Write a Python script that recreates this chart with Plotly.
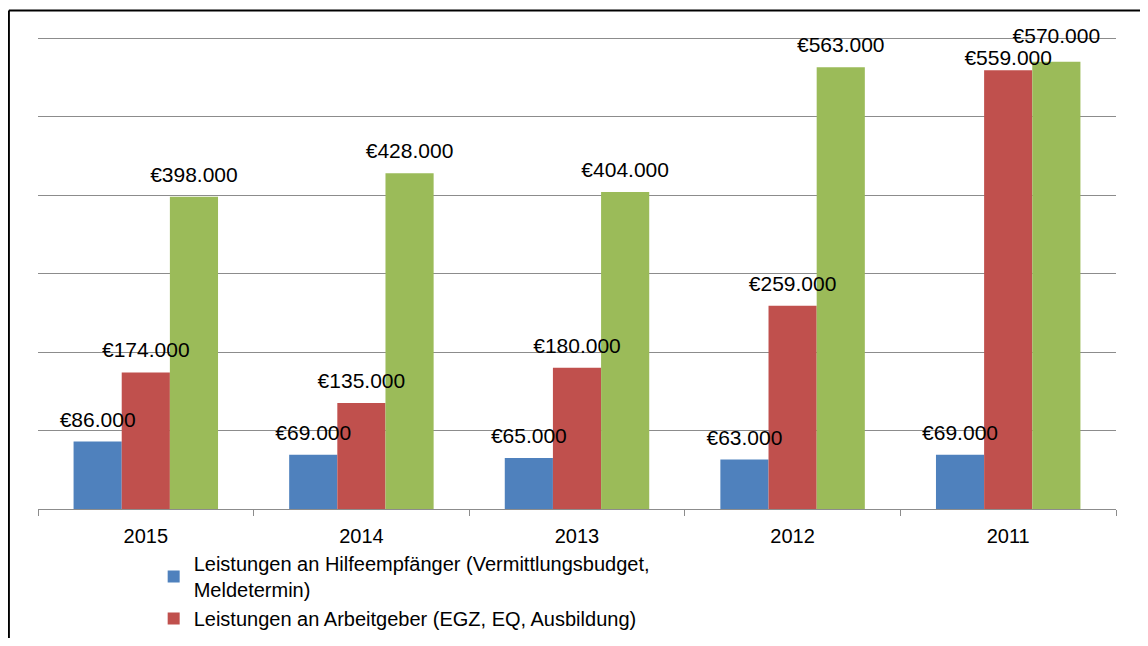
import plotly.graph_objects as go

years = ["2015", "2014", "2013", "2012", "2011"]
hilfe = [86000, 69000, 65000, 63000, 69000]
arbeitgeber = [174000, 135000, 180000, 259000, 559000]
weitere = [398000, 428000, 404000, 563000, 570000]

names = [
    "Leistungen an Hilfeempfänger (Vermittlungsbudget,<br>Meldetermin)",
    "Leistungen an Arbeitgeber (EGZ, EQ, Ausbildung)",
    "Leistungen an Träger (Maßnahmen)",
]
colors = ["#4F81BD", "#C0504D", "#9BBB59"]
series = [hilfe, arbeitgeber, weitere]

# label offset (invisible marker size) per point: the two 2011 labels sit apart as in the original
label_gap = [
    [14, 14, 14, 14, 14],
    [14, 14, 14, 14, 0],
    [14, 14, 14, 14, 20],
]

FONT = "Liberation Sans, Arial, sans-serif"

fig = go.Figure()
for i, (vals, name, col) in enumerate(zip(series, names, colors)):
    fig.add_trace(go.Bar(
        x=years, y=vals, name=name, marker=dict(color=col, line=dict(width=0)),
        offsetgroup=str(i), legend="legend" if i < 2 else "legend2",
    ))
for i, vals in enumerate(series):
    fig.add_trace(go.Scatter(
        x=years, y=vals, mode="markers+text", offsetgroup=str(i),
        text=["€" + f"{v:,.0f}".replace(",", ".") for v in vals],
        textposition="top center",
        textfont=dict(family=FONT, size=21, color="#000000"),
        marker=dict(size=label_gap[i], opacity=0),
        showlegend=False, hoverinfo="skip", cliponaxis=False,
    ))

fig.update_layout(
    width=1132, height=630,
    margin=dict(l=30, r=24, t=29, b=129, autoexpand=False),
    paper_bgcolor="white", plot_bgcolor="white",
    barmode="group", bargap=0.33, bargroupgap=0,
    scattermode="group", scattergap=0.33,
    font=dict(family=FONT, size=20, color="#000000"),
    legend=dict(
        x=0.1073, y=-0.074, xanchor="left", yanchor="top",
        font=dict(family=FONT, size=20), itemwidth=30,
        bgcolor="rgba(0,0,0,0)", tracegroupgap=2,
    ),
    legend2=dict(x=0.111, y=-0.6, xanchor="left", yanchor="top",
                 font=dict(family=FONT, size=20)),
    shapes=[
        dict(type="line", xref="paper", yref="paper", x0=-0.027, x1=-0.027,
             y0=1.056, y1=-0.3, line=dict(color="#000000", width=2)),
        dict(type="line", xref="paper", yref="paper", x0=-0.027, x1=1.05,
             y0=1.056, y1=1.056, line=dict(color="#000000", width=2)),
    ],
)
fig.update_xaxes(
    type="category", showline=True, linecolor="#8c8c8c", linewidth=1,
    ticks="outside", tickson="boundaries", ticklen=6, tickcolor="#8c8c8c",
    tickfont=dict(family=FONT, size=20), showgrid=False, ticklabelstandoff=9,
)
fig.update_yaxes(
    range=[0, 601500], dtick=100000, showgrid=True, gridcolor="#8c8c8c",
    gridwidth=1.3, showticklabels=False, zeroline=False, showline=False,
)

fig.write_html("out.html")
